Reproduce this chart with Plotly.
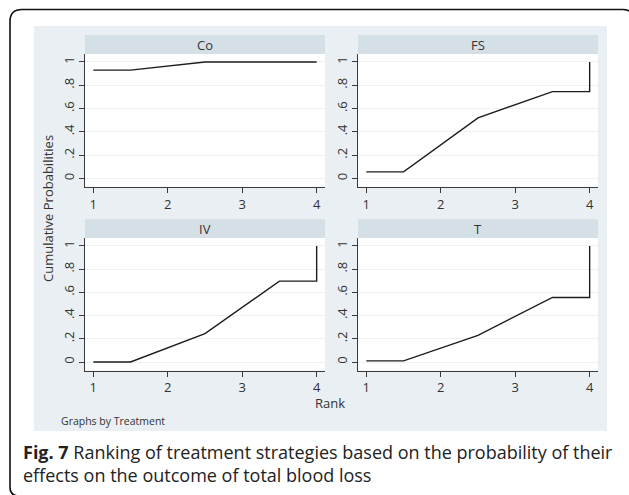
import plotly.graph_objects as go

W, H = 629, 495

# Cumulative rank probabilities per treatment (vertices of each ranking curve)
treatments = ["Co", "FS", "IV", "T"]
rank_x = [1, 1.5, 2.5, 3.5, 4, 4]
co_prob = [0.93, 0.93, 1.0, 1.0, 1.0, 1.0]
fs_prob = [0.057, 0.057, 0.52, 0.745, 0.745, 1.0]
iv_prob = [0.0, 0.0, 0.245, 0.697, 0.697, 1.0]
t_prob = [0.01, 0.01, 0.23, 0.556, 0.556, 1.0]
series = [co_prob, fs_prob, iv_prob, t_prob]

x_ticks = [1, 2, 3, 4]
y_ticks = [0, 0.2, 0.4, 0.6, 0.8, 1]
y_tick_text = ["0", ".2", ".4", ".6", ".8", "1"]

# Panel geometry in pixels: (left, right, top, bottom, header_top)
panels = [
    (85, 325, 54, 187, 35),
    (358, 598, 54, 187, 35),
    (85, 325, 238, 370.5, 219.3),
    (358, 598, 238, 370.5, 219.3),
]

BLUE = "#E9EFF2"
HEADER = "#D5E0E6"
GRID = "#ECF1F4"
AXIS = "#3a3a3a"
FONT = "Open Sans"


def px(x):
    return x / W


def py(y):
    return 1 - y / H


fig = go.Figure()
shapes = []
annotations = []

# Graph region background
shapes.append(dict(type="rect", xref="paper", yref="paper", layer="below",
                   x0=px(34), x1=px(607), y0=py(431), y1=py(26),
                   fillcolor=BLUE, line_width=0))

for i, (name, vals, (l, r, t, b, ht)) in enumerate(zip(treatments, series, panels)):
    n = "" if i == 0 else str(i + 1)
    xa, ya = "x" + n, "y" + n
    fig.add_trace(go.Scatter(x=rank_x, y=vals, mode="lines", xaxis=xa, yaxis=ya,
                             line=dict(color="#1c1c1c", width=1.4),
                             showlegend=False, hoverinfo="skip"))
    fig.layout["xaxis" + n] = dict(
        domain=[px(l), px(r)], anchor=ya, range=[0.888, 4.112],
        tickvals=x_ticks, ticks="outside", ticklen=5, tickcolor=AXIS,
        showline=True, linecolor=AXIS, linewidth=1, showgrid=False,
        zeroline=False, tickfont=dict(family=FONT, size=13, color="#333"))
    fig.layout["yaxis" + n] = dict(
        domain=[py(b), py(t)], anchor=xa, range=[-0.073, 1.068],
        tickvals=y_ticks, ticktext=y_tick_text, tickangle=-90,
        ticks="outside", ticklen=5, tickcolor=AXIS,
        showline=True, linecolor=AXIS, linewidth=1,
        showgrid=True, gridcolor=GRID, gridwidth=1, zeroline=False,
        tickfont=dict(family=FONT, size=13, color="#333"))
    # white plot area and header strip
    shapes.append(dict(type="rect", xref="paper", yref="paper", layer="below",
                       x0=px(l), x1=px(r), y0=py(b), y1=py(t),
                       fillcolor="white", line_width=0))
    shapes.append(dict(type="rect", xref="paper", yref="paper", layer="below",
                       x0=px(l), x1=px(r), y0=py(t), y1=py(ht),
                       fillcolor=HEADER, line_width=0))
    annotations.append(dict(text=name, xref="paper", yref="paper",
                            x=px((l + r) / 2), y=py((t + ht) / 2),
                            xanchor="center", yanchor="middle", showarrow=False,
                            font=dict(family=FONT, size=13, color="#333")))

# Outer rounded frame
def P(x, y):
    return f"{px(x):.5f},{py(y):.5f}"

frame = (f"M {P(10, 487)} L {P(10, 21.5)} Q {P(10, 9.5)} {P(22, 9.5)} "
         f"L {P(623, 9.5)} Q {P(633, 9.5)} {P(633, 19.5)} L {P(633, 497)} "
         f"M {P(10, 487)} Q {P(10, 496)} {P(19, 496)}")
shapes.append(dict(type="path", xref="paper", yref="paper", path=frame,
                   line=dict(color="#111", width=1.6)))

annotations += [
    dict(text="Cumulative Probabilities", xref="paper", yref="paper",
         x=px(48), y=py(209), textangle=-90, xanchor="center", yanchor="middle",
         showarrow=False, font=dict(family=FONT, size=13, color="#333")),
    dict(text="Rank", xref="paper", yref="paper", x=px(330), y=py(403),
         xanchor="center", yanchor="middle", showarrow=False,
         font=dict(family=FONT, size=13, color="#333")),
    dict(text="Graphs by Treatment", xref="paper", yref="paper", x=px(59), y=py(421),
         xanchor="left", yanchor="middle", showarrow=False,
         font=dict(family=FONT, size=10.5, color="#333")),
    dict(text="<b>Fig. 7</b> Ranking of treatment strategies based on the probability of their"
              "<br>effects on the outcome of total blood loss",
         xref="paper", yref="paper", x=px(21), y=py(438), xanchor="left",
         yanchor="top", align="left", showarrow=False,
         font=dict(family=FONT, size=18, color="#222")),
]

fig.update_layout(width=W, height=H, margin=dict(l=0, r=0, t=0, b=0),
                  paper_bgcolor="white", plot_bgcolor="rgba(0,0,0,0)",
                  shapes=shapes, annotations=annotations, showlegend=False)

fig.write_html("out.html")
